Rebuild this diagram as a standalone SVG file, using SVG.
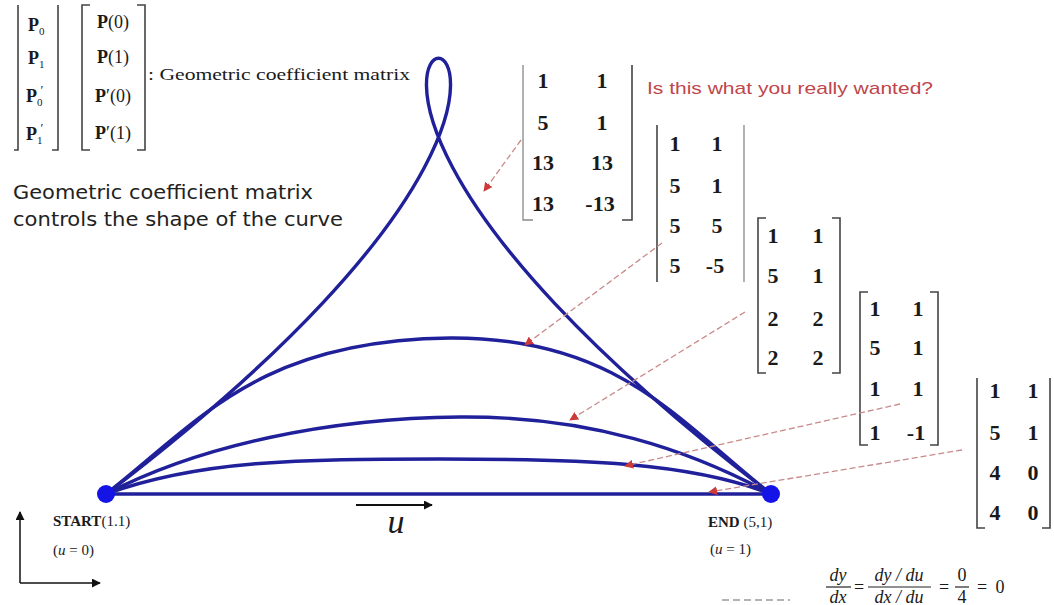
<svg xmlns="http://www.w3.org/2000/svg" width="1054" height="605" viewBox="0 0 1054 605">
<defs>
<style>
.serif{font-family:"Liberation Serif","Times New Roman",serif;fill:#1a1a1a}
.num{font-family:"Liberation Serif","Times New Roman",serif;font-weight:bold;font-size:22px;fill:#1a1a1a;text-anchor:middle}
.br{fill:none;stroke:#444;stroke-width:1.6}
.brl{fill:none;stroke:#888;stroke-width:1.3}
.curve{fill:none;stroke:#20209a;stroke-width:3.4;stroke-linejoin:round}
.dot{fill:#1414e6}
.lead{fill:none;stroke:#c98a8a;stroke-width:1.3;stroke-dasharray:6 3}
.sans{font-family:"DejaVu Sans","Verdana",sans-serif;fill:#222}
</style>
<marker id="ah" viewBox="0 0 10 10" refX="9" refY="5" markerWidth="9" markerHeight="9" markerUnits="userSpaceOnUse" orient="auto">
<path d="M0,0 L10,5 L0,10 z" fill="#cc3a3a"/>
</marker>
<marker id="bk" viewBox="0 0 10 10" refX="9" refY="5" markerWidth="9" markerHeight="9" markerUnits="userSpaceOnUse" orient="auto">
<path d="M0,0 L10,5 L0,10 z" fill="#111"/>
</marker>
</defs>
<rect width="1054" height="605" fill="#ffffff"/>

<!-- top-left geometric coefficient matrix -->
<g id="coef-matrix">
<path class="br" d="M14,150 L18,150 L18,5"/>
<path class="br" d="M58,5 L58,150 L52,150"/>
<g class="serif" font-size="18" text-anchor="start">
<text x="28" y="31"><tspan font-weight="bold">P</tspan><tspan font-size="11" dy="4">0</tspan></text>
<text x="28" y="64"><tspan font-weight="bold">P</tspan><tspan font-size="11" dy="4">1</tspan></text>
<text x="26" y="102"><tspan font-weight="bold">P</tspan><tspan font-size="11" dy="4">0</tspan><tspan font-size="13" dx="-2" dy="-12">′</tspan></text>
<text x="26" y="140"><tspan font-weight="bold">P</tspan><tspan font-size="11" dy="4">1</tspan><tspan font-size="13" dx="-2" dy="-12">′</tspan></text>
</g>
<path class="br" d="M90,5 L82,5 L82,150 L90,150"/>
<path class="br" d="M137,5 L145,5 L145,150 L137,150"/>
<g class="serif" font-size="18" text-anchor="middle">
<text x="113" y="28"><tspan font-weight="bold">P</tspan>(0)</text>
<text x="113" y="63"><tspan font-weight="bold">P</tspan>(1)</text>
<text x="113" y="102"><tspan font-weight="bold">P</tspan>′(0)</text>
<text x="113" y="139"><tspan font-weight="bold">P</tspan>′(1)</text>
</g>
<text class="serif" x="148" y="80" font-size="17" textLength="262" lengthAdjust="spacingAndGlyphs">: Geometric coefficient matrix</text>
</g>

<g id="caption">
<text class="sans" x="13" y="199" font-size="20" textLength="300" lengthAdjust="spacingAndGlyphs">Geometric coefficient matrix</text>
<text class="sans" x="13" y="226" font-size="20" textLength="330" lengthAdjust="spacingAndGlyphs">controls the shape of the curve</text>
</g>

<g id="question">
<text x="647" y="94" font-family="Liberation Sans, Arial, sans-serif" font-size="17" fill="#c0454a" textLength="286" lengthAdjust="spacingAndGlyphs">Is this what you really wanted?</text>
</g>

<!-- curves -->
<g id="curves">
<path class="curve" d="M106,494 C869,-87 8,-87 771,494"/>
<path class="curve" d="M106,494 C200,420 260,340 450,338 C617,337 677,420 771,494"/>
<path class="curve" d="M106,494 C200,445 330,418 460,417 C590,416 690,450 771,494"/>
<path class="curve" d="M106,494 C200,460 300,459 440,459 C580,459 690,462 771,494"/>
<path class="curve" d="M106,494 L771,494"/>
</g>

<g id="start">
<circle class="dot" cx="106" cy="494" r="9"/>
<text class="serif" x="53" y="526" font-size="15"><tspan font-weight="bold">START</tspan>(1.1)</text>
<text class="serif" x="53" y="555" font-size="15">(<tspan font-style="italic">u</tspan> = 0)</text>
</g>
<g id="end">
<circle class="dot" cx="771" cy="494" r="9"/>
<text class="serif" x="708" y="527" font-size="15"><tspan font-weight="bold">END</tspan> (5,1)</text>
<text class="serif" x="710" y="554" font-size="15">(<tspan font-style="italic">u</tspan> = 1)</text>
</g>

<!-- u direction -->
<g id="u-arrow">
<line x1="356" y1="505" x2="432" y2="505" stroke="#111" stroke-width="1.8" marker-end="url(#bk)"/>
<text class="serif" x="396" y="533" font-size="34" font-style="italic" text-anchor="middle">u</text>
</g>

<!-- axes icon -->
<g id="axes">
<line x1="20" y1="583" x2="20" y2="512" stroke="#111" stroke-width="1.5" marker-end="url(#bk)"/>
<line x1="20" y1="583" x2="100" y2="583" stroke="#111" stroke-width="1.5" marker-end="url(#bk)"/>
</g>

<!-- matrices -->
<g id="m13">
<path class="brl" d="M523,65 L523,220 L533,220"/>
<path class="br" d="M632,65 L632,220 L622,220"/>
<text class="num" x="543" y="88">1</text><text class="num" x="602" y="88">1</text>
<text class="num" x="543" y="130">5</text><text class="num" x="602" y="130">1</text>
<text class="num" x="543" y="170">13</text><text class="num" x="602" y="170">13</text>
<text class="num" x="543" y="211">13</text><text class="num" x="600" y="211">-13</text>
</g>
<g id="m5">
<path class="br" d="M657,125 L657,282"/>
<path class="brl" d="M744,125 L744,282"/>
<text class="num" x="675" y="151">1</text><text class="num" x="717" y="151">1</text>
<text class="num" x="675" y="193">5</text><text class="num" x="717" y="193">1</text>
<text class="num" x="675" y="233">5</text><text class="num" x="717" y="233">5</text>
<text class="num" x="675" y="273">5</text><text class="num" x="715" y="273">-5</text>
</g>
<g id="m2">
<path class="br" d="M766,218 L758,218 L758,373 L766,373"/>
<path class="br" d="M832,218 L840,218 L840,373 L832,373"/>
<text class="num" x="773" y="243">1</text><text class="num" x="818" y="243">1</text>
<text class="num" x="773" y="283">5</text><text class="num" x="818" y="283">1</text>
<text class="num" x="773" y="326">2</text><text class="num" x="818" y="326">2</text>
<text class="num" x="773" y="365">2</text><text class="num" x="818" y="365">2</text>
</g>
<g id="m1">
<path class="br" d="M868,292 L860,292 L860,445 L868,445"/>
<path class="br" d="M930,292 L938,292 L938,445 L930,445"/>
<text class="num" x="875" y="316">1</text><text class="num" x="918" y="316">1</text>
<text class="num" x="875" y="355">5</text><text class="num" x="918" y="355">1</text>
<text class="num" x="875" y="396">1</text><text class="num" x="918" y="396">1</text>
<text class="num" x="875" y="440">1</text><text class="num" x="916" y="440">-1</text>
</g>
<g id="m0">
<path class="br" d="M977,378 L977,528 L985,528"/>
<path class="br" d="M1050,378 L1050,528 L1042,528"/>
<text class="num" x="995" y="398">1</text><text class="num" x="1033" y="398">1</text>
<text class="num" x="995" y="440">5</text><text class="num" x="1033" y="440">1</text>
<text class="num" x="995" y="480">4</text><text class="num" x="1033" y="480">0</text>
<text class="num" x="995" y="520">4</text><text class="num" x="1033" y="520">0</text>
</g>

<!-- connectors -->
<g id="connectors">
<line class="lead" x1="521" y1="140" x2="484" y2="191" marker-end="url(#ah)"/>
<line class="lead" x1="662" y1="243" x2="525" y2="345" marker-end="url(#ah)"/>
<line class="lead" x1="745" y1="312" x2="570" y2="420" marker-end="url(#ah)"/>
<line class="lead" x1="900" y1="404" x2="625" y2="466" marker-end="url(#ah)"/>
<line class="lead" x1="962" y1="450" x2="709" y2="492" marker-end="url(#ah)"/>
</g>

<line x1="722" y1="600" x2="790" y2="600" stroke="#9a9a9a" stroke-width="1.5" stroke-dasharray="7 4"/>

<!-- formula -->
<g id="formula" class="serif" font-size="18" font-style="italic" text-anchor="middle">
<text x="838" y="581">dy</text>
<line x1="826" y1="587" x2="851" y2="587" stroke="#222" stroke-width="1.2"/>
<text x="838" y="603">dx</text>
<text x="859" y="593" font-style="normal">=</text>
<text x="899" y="581">dy / du</text>
<line x1="868" y1="587" x2="931" y2="587" stroke="#222" stroke-width="1.2"/>
<text x="899" y="603">dx / du</text>
<text x="944" y="593" font-style="normal">=</text>
<text x="962" y="581" font-style="normal">0</text>
<line x1="955" y1="587" x2="969" y2="587" stroke="#222" stroke-width="1.2"/>
<text x="962" y="603" font-style="normal">4</text>
<text x="982" y="593" font-style="normal">=</text>
<text x="1000" y="593" font-style="normal">0</text>
</g>
</svg>
